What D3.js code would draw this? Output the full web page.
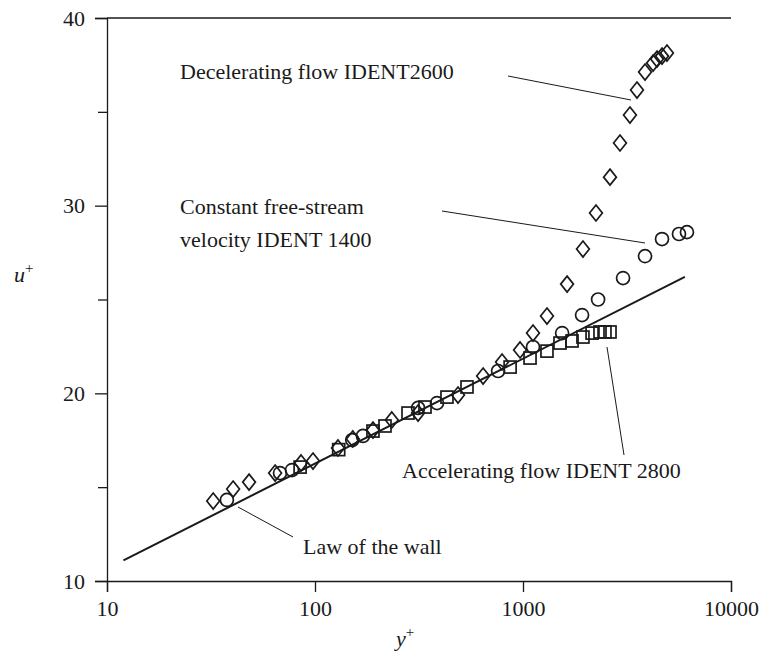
<!DOCTYPE html>
<html>
<head>
<meta charset="utf-8">
<script src="https://cdn.jsdelivr.net/npm/d3@7"></script>
<style>
  html, body { margin: 0; padding: 0; background: #fff; }
  svg { display: block; }
  text { font-family: "Liberation Serif", "DejaVu Serif", serif; fill: #1a1a1a; }
</style>
</head>
<body>
<svg id="chart" width="765" height="655"></svg>
<script>
// Decelerating flow, IDENT 2600 (diamonds)
const decelYPlus = [32.4, 40.4, 48.2, 64.3, 85.7, 97.8, 129, 152, 190, 234, 313, 487, 643, 793, 968, 1117, 1304, 1629, 1942, 2243, 2620, 2926, 3267, 3532, 3861, 4221, 4409, 4660, 4922];
const decelUPlus = [14.26, 14.9, 15.27, 15.75, 16.29, 16.39, 17.09, 17.57, 18.04, 18.58, 18.95, 19.91, 20.92, 21.67, 22.31, 23.21, 24.12, 25.82, 27.69, 29.61, 31.52, 33.34, 34.83, 36.16, 37.12, 37.6, 37.81, 37.97, 38.13];

// Constant free-stream velocity, IDENT 1400 (circles)
const constYPlus = [37.7, 67.9, 77.5, 151, 170, 313, 386, 759, 1117, 1542, 1923, 2296, 3027, 3861, 4660, 5623, 6141];
const constUPlus = [14.32, 15.75, 15.91, 17.51, 17.73, 19.22, 19.48, 21.19, 22.47, 23.21, 24.17, 25.0, 26.14, 27.31, 28.22, 28.49, 28.59];

// Accelerating flow, IDENT 2800 (squares)
const accelYPlus = [84.8, 130, 190, 217, 280, 338, 431, 538, 867, 1081, 1304, 1506, 1721, 1942, 2148, 2345, 2478, 2620];
const accelUPlus = [16.07, 17.0, 17.99, 18.26, 18.95, 19.27, 19.8, 20.34, 21.4, 21.88, 22.25, 22.68, 22.79, 23.0, 23.21, 23.27, 23.27, 23.27];

// Law of the wall, straight on semi-log axes: end points
const lawYPlus = [12, 6000];
const lawUPlus = [11.1, 26.2];

// Axis ticks
const xTicks = [10, 100, 1000, 10000];
const yMajorTicks = [10, 20, 30, 40];
const yMinorTicks = [15, 25, 35];

const svg = d3.select("#chart");
const plot = { left: 107, right: 731, top: 18, bottom: 581 };

const x = d3.scaleLog().domain([10, 10000]).range([plot.left, plot.right]);
const y = d3.scaleLinear().domain([10, 40]).range([plot.bottom, plot.top]);

const ink = "#1a1a1a";

// Frame: top edge
svg.append("line")
  .attr("x1", plot.left).attr("x2", plot.right).attr("y1", plot.top).attr("y2", plot.top)
  .attr("stroke", ink).attr("stroke-width", 1.3);

// x axis
const xAxis = svg.append("g")
  .attr("transform", `translate(0,${plot.bottom})`)
  .call(d3.axisBottom(x).tickValues(xTicks).tickFormat(d3.format("d")).tickSize(11).tickPadding(8));
xAxis.select(".domain").attr("stroke", ink).attr("stroke-width", 1.3);
xAxis.selectAll(".tick line").attr("stroke", ink).attr("stroke-width", 1.3);
xAxis.selectAll("text").style("font-size", "22px").attr("fill", ink)
  .style("font-family", "'Liberation Serif', serif");

// y axis
const yAxis = svg.append("g")
  .attr("transform", `translate(${plot.left},0)`)
  .call(d3.axisLeft(y).tickValues(yMajorTicks).tickFormat(d3.format("d")).tickSize(12).tickPadding(10));
yAxis.select(".domain").attr("stroke", ink).attr("stroke-width", 1.3);
yAxis.selectAll(".tick line").attr("stroke", ink).attr("stroke-width", 1.3);
yAxis.selectAll("text").style("font-size", "22px").attr("fill", ink)
  .style("font-family", "'Liberation Serif', serif");

const yMinor = svg.append("g")
  .attr("transform", `translate(${plot.left},0)`)
  .call(d3.axisLeft(y).tickValues(yMinorTicks).tickFormat("").tickSize(9));
yMinor.select(".domain").remove();
yMinor.selectAll(".tick line").attr("stroke", ink).attr("stroke-width", 1.3);

// Axis titles
const uLabel = svg.append("text").attr("x", 14).attr("y", 282)
  .style("font-size", "22px").style("font-style", "italic");
uLabel.append("tspan").text("u");
uLabel.append("tspan").attr("dy", -9).style("font-size", "15px").style("font-style", "normal").text("+");

const yLabel = svg.append("text").attr("x", 396).attr("y", 646)
  .style("font-size", "22px").style("font-style", "italic");
yLabel.append("tspan").text("y");
yLabel.append("tspan").attr("dy", -9).style("font-size", "15px").style("font-style", "normal").text("+");

// Law of the wall line
const lawPts = lawYPlus.map((v, i) => [v, lawUPlus[i]]);
svg.append("path")
  .datum(lawPts)
  .attr("d", d3.line().x(d => x(d[0])).y(d => y(d[1])))
  .attr("fill", "none").attr("stroke", ink).attr("stroke-width", 2);

// Markers
const markerStroke = 1.7;
const decel = decelYPlus.map((v, i) => [v, decelUPlus[i]]);
const cons = constYPlus.map((v, i) => [v, constUPlus[i]]);
const accel = accelYPlus.map((v, i) => [v, accelUPlus[i]]);

svg.append("g").selectAll("rect").data(accel).join("rect")
  .attr("x", d => x(d[0]) - 6).attr("y", d => y(d[1]) - 6)
  .attr("width", 12).attr("height", 12)
  .attr("fill", "none").attr("stroke", ink).attr("stroke-width", markerStroke);

svg.append("g").selectAll("circle").data(cons).join("circle")
  .attr("cx", d => x(d[0])).attr("cy", d => y(d[1])).attr("r", 6.5)
  .attr("fill", "none").attr("stroke", ink).attr("stroke-width", markerStroke);

const dr = 8;
svg.append("g").selectAll("path").data(decel).join("path")
  .attr("d", d => {
    const cx = x(d[0]), cy = y(d[1]);
    return `M${cx},${cy - dr}L${cx + dr * 0.8},${cy}L${cx},${cy + dr}L${cx - dr * 0.8},${cy}Z`;
  })
  .attr("fill", "none").attr("stroke", ink).attr("stroke-width", markerStroke);

// Annotations with leader lines
const annots = [
  { lines: ["Decelerating flow IDENT2600"], tx: 180, ty: 79, from: [508, 76], to: [631, 100] },
  { lines: ["Constant free-stream", "velocity IDENT 1400"], tx: 180, ty: 214, from: [442, 211], to: [645, 243] },
  { lines: ["Accelerating flow IDENT 2800"], tx: 402, ty: 478, from: [607, 347], to: [624, 455] },
  { lines: ["Law of the wall"], tx: 303, ty: 554, from: [238, 507], to: [293, 537] }
];
annots.forEach(a => {
  const t = svg.append("text").attr("x", a.tx).attr("y", a.ty).style("font-size", "22px");
  a.lines.forEach((s, i) => t.append("tspan").attr("x", a.tx).attr("dy", i === 0 ? 0 : 33).text(s));
  svg.append("line")
    .attr("x1", a.from[0]).attr("y1", a.from[1]).attr("x2", a.to[0]).attr("y2", a.to[1])
    .attr("stroke", ink).attr("stroke-width", 1);
});
</script>
</body>
</html>
